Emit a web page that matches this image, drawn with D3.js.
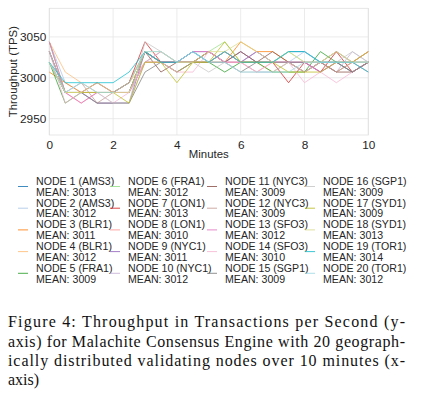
<!DOCTYPE html>
<html><head><meta charset="utf-8">
<script src="https://cdn.jsdelivr.net/npm/d3@7"></script>
<style>body{margin:0;background:#fff}svg{display:block}</style>
</head><body>
<svg id="c" width="425" height="399"></svg>
<script>
const minutes = d3.range(0, 10.01, 0.5);
const nodeNames = ["NODE 1 (AMS3)","NODE 2 (AMS3)","NODE 3 (BLR1)","NODE 4 (BLR1)","NODE 5 (FRA1)","NODE 6 (FRA1)","NODE 7 (LON1)","NODE 8 (LON1)","NODE 9 (NYC1)","NODE 10 (NYC1)","NODE 11 (NYC3)","NODE 12 (NYC3)","NODE 13 (SFO3)","NODE 14 (SFO3)","NODE 15 (SGP1)","NODE 16 (SGP1)","NODE 17 (SYD1)","NODE 18 (SYD1)","NODE 19 (TOR1)","NODE 20 (TOR1)"];
const nodeMeans = [3013,3012,3011,3012,3009,3012,3013,3010,3011,3012,3009,3009,3012,3010,3009,3009,3009,3013,3014,3012];
const nodeColors = ["#1f77b4","#aec7e8","#ff7f0e","#ffbb78","#2ca02c","#98df8a","#d62728","#ff9896","#9467bd","#c5b0d5","#8c564b","#c49c94","#e377c2","#f7b6d2","#7f7f7f","#c7c7c7","#bcbd22","#dbdb8d","#17becf","#9edae5"];
const s1 = [3019,2982,2982,2982,2982,2982,3032,3019,3019,3032,3019,3032,3019,3032,3019,3032,3032,3019,3032,3019,3019];
const s2 = [3044,2994,2982,2994,2982,2994,3032,3019,3019,3019,3032,3019,3019,3007,3007,3019,3032,3019,3019,3019,3007];
const s3 = [3007,2994,2982,2982,2982,2994,3032,3019,3007,3019,3019,3019,3044,3032,3032,3019,3007,3019,3019,3019,3032];
const s4 = [3044,3007,2994,2982,2982,2994,3019,3019,3019,3019,3019,3032,3019,3019,3007,3019,3019,3019,3032,3019,3032];
const s5 = [3019,2969,2982,2982,2982,2982,3032,3019,3007,3019,3019,3007,3019,3019,3007,3007,3007,3032,3019,3007,3019];
const s6 = [3032,2982,2982,2982,2982,2994,3032,3019,3019,3019,3032,3044,3019,3019,3019,3032,3019,3019,3007,3019,3019];
const s7 = [3044,2982,2982,2994,2982,2994,3044,3019,3019,3019,3032,3019,3019,3019,3019,2994,3019,3007,3032,3007,3019];
const s8 = [3032,2982,2969,2982,2982,2982,3019,3032,3019,3019,3019,3032,3019,3007,3019,3019,3007,3019,3007,3019,3007];
const s9 = [3032,2982,2982,2969,2969,2969,3032,3019,3019,3032,3032,3019,3032,3019,3019,3019,3019,3007,3019,3007,3019];
const s10 = [3044,2982,2982,2969,2969,2969,3019,3032,3019,3032,3019,3019,3032,3019,3019,3019,3019,3019,3007,3032,3019];
const s11 = [3019,2982,2982,2982,2982,2982,3032,3007,3019,3019,3032,3019,3032,3019,3032,3019,3007,3019,3007,3007,3019];
const s12 = [3032,2982,2994,2969,2982,2982,3019,3019,3007,3019,3019,3032,3019,3019,3019,3019,3007,3019,3007,3019,3019];
const s13 = [3019,2982,2969,2982,2982,2982,3019,3019,3019,3032,3032,3019,3019,3032,3019,3019,3019,3007,3019,3019,3032];
const s14 = [3032,2969,2982,2982,2969,2982,3019,3019,3007,3007,3032,3019,3019,3007,3019,3019,2994,3007,2994,3007,3019];
const s15 = [3032,2982,2982,2969,2969,2969,3007,3019,3019,3019,3019,3019,3007,3019,3019,3019,3019,3019,3019,3007,3019];
const s16 = [3032,2982,2994,2982,2969,2969,3044,3032,3019,3019,3007,3019,3007,3007,3007,3019,3007,3019,3019,3032,3019];
const s17 = [3019,2982,2982,2982,2982,2969,3019,3019,2994,3019,3019,3044,3019,3019,3019,3007,3007,3007,3019,3019,3032];
const s18 = [3019,2982,2982,2994,2982,2982,3032,3032,3019,3019,3032,3032,3044,3032,3019,3032,3019,3019,3032,3019,3019];
const s19 = [3019,2994,2994,2994,2994,3007,3032,3019,3019,3032,3019,3032,3019,3019,3019,3032,3032,3019,3019,3019,3007];
const s20 = [3019,2982,2994,2982,2982,2994,3032,3032,3019,3032,3019,3019,3007,3007,3007,3007,3019,3019,3019,3019,3019];
const seriesValues = [s1,s2,s3,s4,s5,s6,s7,s8,s9,s10,s11,s12,s13,s14,s15,s16,s17,s18,s19,s20];
const xTicks = [0,2,4,6,8,10];
const yTicks = [2950,3000,3050];
const captionLines = ["Figure 4: Throughput in Transactions per Second (y-","axis) for Malachite Consensus Engine with 20 geograph-","ically distributed validating nodes over 10 minutes (x-","axis)"];

const svg = d3.select("#c");
const L = 49.3, R = 368.3, T = 8.3, B = 135;
const x = d3.scaleLinear().domain([0,10]).range([L,R]);
const y = d3.scaleLinear().domain([2930,3085]).range([B,T]);
const sans = "'Liberation Sans', Arial, Helvetica, sans-serif";

// grid
const g = svg.append("g");
g.selectAll(".gx").data(xTicks).join("line")
  .attr("x1",d=>x(d)).attr("x2",d=>x(d)).attr("y1",T).attr("y2",B)
  .attr("stroke","#e6e6e6").attr("stroke-width",0.8);
g.selectAll(".gy").data(yTicks).join("line")
  .attr("x1",L).attr("x2",R).attr("y1",d=>y(d)).attr("y2",d=>y(d))
  .attr("stroke","#e6e6e6").attr("stroke-width",0.8);
svg.append("rect").attr("x",L).attr("y",T).attr("width",R-L).attr("height",B-T)
  .attr("fill","none").attr("stroke","#e0e0e0").attr("stroke-width",0.8);

// axes via d3
const xa = svg.append("g").attr("transform",`translate(0,${B})`)
  .call(d3.axisBottom(x).tickValues(xTicks).tickSize(0).tickPadding(6).tickFormat(d3.format("d")));
const ya = svg.append("g").attr("transform",`translate(${L},0)`)
  .call(d3.axisLeft(y).tickValues(yTicks).tickSize(0).tickPadding(3).tickFormat(d3.format("d")));
[xa,ya].forEach(a=>{a.select(".domain").remove();
  a.selectAll("text").attr("font-family",sans).attr("font-size",11.8).attr("fill","#262626");});

svg.append("text").attr("x",(L+R)/2).attr("y",158).attr("text-anchor","middle")
  .attr("font-family",sans).attr("font-size",11.4).attr("fill","#262626").text("Minutes");
svg.append("text").attr("transform",`translate(17,${(T+B)/2}) rotate(-90)`).attr("text-anchor","middle")
  .attr("font-family",sans).attr("font-size",11.4).attr("fill","#262626").text("Throughput (TPS)");

// lines
const line = d3.line().x((d,i)=>x(minutes[i])).y(d=>y(d));
svg.append("g").selectAll("path").data(seriesValues).join("path")
  .attr("d",line).attr("fill","none")
  .attr("stroke",(d,i)=>nodeColors[i]).attr("stroke-width",0.9).attr("stroke-opacity",0.85);

// legend
const colX = [18,110,207,305];
const lg = svg.append("g");
nodeNames.forEach((n,i)=>{
  const c = Math.floor(i/5), r = i%5;
  const cx = colX[c], cy = 186.5 + r*21.7;
  lg.append("line").attr("x1",cx).attr("x2",cx+10).attr("y1",cy).attr("y2",cy)
    .attr("stroke",nodeColors[i]).attr("stroke-width",1).attr("stroke-opacity",0.85);
  const t = lg.append("text").attr("x",cx+18).attr("y",cy-1.6)
    .attr("font-family",sans).attr("font-size",10.6).attr("fill","#262626");
  t.append("tspan").attr("x",cx+18).text(n);
  t.append("tspan").attr("x",cx+18).attr("dy",10.8).text("MEAN: "+nodeMeans[i]);
});

// caption
const capY = [327,346.5,366,385];
captionLines.forEach((s,i)=>{
  const t = svg.append("text").attr("x",8).attr("y",capY[i])
    .attr("font-family","'Liberation Serif','Times New Roman',serif").attr("font-size",16)
    .attr("fill","#111").text(s);
  if(i<3) t.attr("textLength",397).attr("lengthAdjust","spacing");
});
</script>
</body></html>
